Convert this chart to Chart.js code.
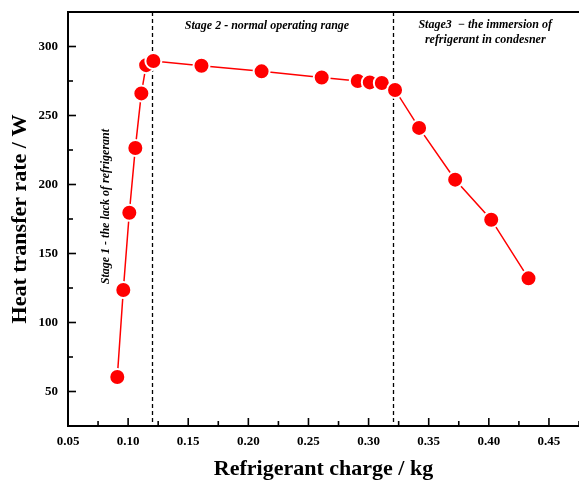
<!DOCTYPE html>
<html>
<head>
<meta charset="utf-8">
<script src="https://cdn.jsdelivr.net/npm/chart.js@4/dist/chart.umd.min.js"></script>
<style>
  html, body { margin: 0; padding: 0; background: #fff; }
  canvas { display: block; }
</style>
</head>
<body>
<canvas id="charge_chart" width="579" height="483"></canvas>
<script>
// values
const chargeKg = [0.091, 0.096, 0.101, 0.106, 0.111, 0.115, 0.121, 0.161, 0.211, 0.261,
                  0.291, 0.301, 0.311, 0.322, 0.342, 0.372, 0.402, 0.433];
const heatW = [60.5, 123.5, 179.5, 226.5, 266, 286.5, 289.5, 286, 282, 277.5,
               275, 274, 273.5, 268.5, 241, 203.5, 174.5, 132];
const stageBounds = [0.12, 0.32];
const stage1Text = 'Stage 1 - the lack of refrigerant';
const stage2Text = 'Stage 2 - normal operating range';
const stage3Text = ['Stage3  \u2212 the immersion of', 'refrigerant in condesner'];

const serif = "'Liberation Serif', 'Times New Roman', serif";

const frame = {
  id: 'frame',
  beforeDatasetsDraw(chart) {
    const {ctx, chartArea: a, scales: {x}} = chart;
    ctx.save();
    ctx.strokeStyle = '#000';
    ctx.lineWidth = 1.3;
    ctx.setLineDash([4, 3]);
    stageBounds.forEach(v => {
      const px = Math.round(x.getPixelForValue(v)) + 0.5;
      ctx.beginPath();
      ctx.moveTo(px, a.top);
      ctx.lineTo(px, a.bottom);
      ctx.stroke();
    });
    ctx.restore();
  },
  afterDraw(chart) {
    const {ctx, chartArea: a, scales: {x, y}} = chart;
    ctx.save();
    // top spine
    ctx.strokeStyle = '#000';
    ctx.lineWidth = 2;
    ctx.beginPath();
    ctx.moveTo(a.left - 1, a.top);
    ctx.lineTo(a.right, a.top);
    ctx.stroke();
    // inward ticks
    ctx.lineWidth = 1.6;
    x.ticks.forEach(t => {
      const px = x.getPixelForValue(t.value);
      const len = Math.round(t.value * 1000) % 50 === 0 ? 8 : 5;
      ctx.beginPath();
      ctx.moveTo(px, a.bottom);
      ctx.lineTo(px, a.bottom - len);
      ctx.stroke();
    });
    y.ticks.forEach(t => {
      const py = y.getPixelForValue(t.value);
      const len = t.value % 50 === 0 ? 8 : 5;
      ctx.beginPath();
      ctx.moveTo(a.left, py);
      ctx.lineTo(a.left + len, py);
      ctx.stroke();
    });
    // stage notes
    ctx.fillStyle = '#000';
    ctx.font = 'italic bold 12px ' + serif;
    ctx.textAlign = 'center';
    ctx.textBaseline = 'middle';
    ctx.fillText(stage2Text, x.getPixelForValue(0.2155), y.getPixelForValue(315));
    ctx.fillText(stage3Text[0], x.getPixelForValue(0.397), y.getPixelForValue(315.5));
    ctx.fillText(stage3Text[1], x.getPixelForValue(0.397), y.getPixelForValue(304.5));
    ctx.translate(x.getPixelForValue(0.0815), y.getPixelForValue(184));
    ctx.rotate(-Math.PI / 2);
    ctx.fillText(stage1Text, 0, 0);
    ctx.restore();
  }
};

const chargeCtx = document.getElementById('charge_chart').getContext('2d');
const chargeChart = new Chart(chargeCtx, {
  type: 'line',
  data: {
    datasets: [
      {
        label: 'Heat transfer rate',
        data: chargeKg.map((c, i) => ({x: c, y: heatW[i]})),
        borderColor: '#ff0000',
        borderWidth: 1.5,
        backgroundColor: '#ff0000',
        pointBackgroundColor: '#ff0000',
        pointBorderColor: '#ffffff',
        pointBorderWidth: 2,
        pointRadius: 8,
        tension: 0
      }
    ]
  },
  options: {
    responsive: false,
    animation: false,
    layout: { autoPadding: false, padding: { top: 12, left: 0, right: 0, bottom: 0 } },
    plugins: { legend: { display: false }, tooltip: { enabled: false } },
    scales: {
      x: {
        type: 'linear',
        min: 0.05,
        max: 0.475,
        grid: { display: false, drawTicks: false },
        border: { display: true, color: '#000', width: 2 },
        ticks: {
          stepSize: 0.025,
          autoSkip: false,
          maxRotation: 0,
          padding: 8,
          color: '#000',
          font: { family: serif, size: 13, weight: 'bold' },
          callback: v => Math.round(v * 1000) % 50 === 0 ? v.toFixed(2) : ''
        },
        title: {
          display: true,
          text: 'Refrigerant charge / kg',
          color: '#000',
          font: { family: serif, size: 22, weight: 'bold' },
          padding: { top: 0, bottom: 0 }
        },
        afterFit: s => { s.height = 57; s.paddingLeft = 0; s.paddingRight = 0; }
      },
      y: {
        min: 25,
        max: 325,
        grid: { display: false, drawTicks: false },
        border: { display: true, color: '#000', width: 2 },
        ticks: {
          stepSize: 25,
          autoSkip: false,
          padding: 10,
          color: '#000',
          font: { family: serif, size: 13, weight: 'bold' },
          callback: v => v % 50 === 0 ? v : ''
        },
        title: {
          display: true,
          text: 'Heat transfer rate / W',
          color: '#000',
          font: { family: serif, size: 22, weight: 'bold' },
          padding: { top: 7, bottom: 0 }
        },
        afterFit: s => { s.width = 68; s.paddingTop = 0; s.paddingBottom = 0; }
      }
    }
  },
  plugins: [frame]
});
</script>
</body>
</html>
